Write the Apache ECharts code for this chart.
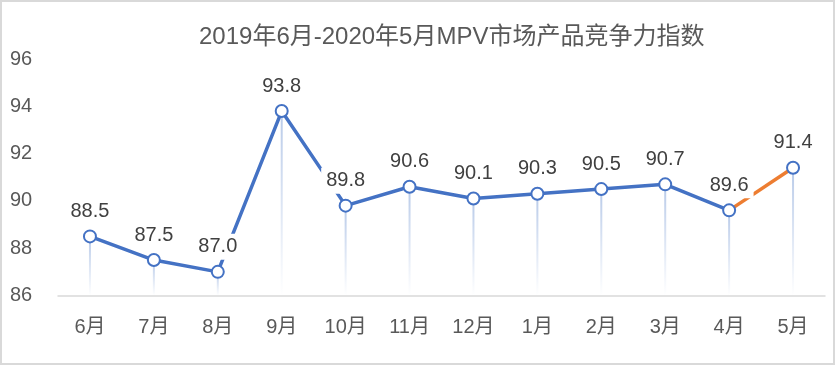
<!DOCTYPE html>
<html>
<head>
<meta charset="utf-8">
<script src="https://cdn.jsdelivr.net/npm/echarts@6/dist/echarts.min.js"></script>
<style>
html,body{margin:0;padding:0;background:#fff;}
#chart{width:835px;height:365px;}
</style>
</head>
<body>
<div id="chart"></div>
<script>
const titleText = '2019年6月-2020年5月MPV市场产品竞争力指数';
const categories = ['6月','7月','8月','9月','10月','11月','12月','1月','2月','3月','4月','5月'];
const values = [88.5, 87.5, 87.0, 93.8, 89.8, 90.6, 90.1, 90.3, 90.5, 90.7, 89.6, 91.4];
const blueValues = [88.5, 87.5, 87.0, 93.8, 89.8, 90.6, 90.1, 90.3, 90.5, 90.7, 89.6, '-'];
const orangeValues = ['-', '-', '-', '-', '-', '-', '-', '-', '-', '-', 89.6, 91.4];
const yMin = 86, yMax = 96, yInterval = 2;

const FONT = '"Liberation Sans", Arial, "Noto Sans CJK SC", sans-serif';
const chart = echarts.init(document.getElementById('chart'), null, {renderer: 'canvas'});
chart.setOption({
  animation: false,
  backgroundColor: '#fff',
  textStyle: {fontFamily: FONT},
  title: {
    text: titleText,
    left: 199, top: 25, padding: 0,
    textStyle: {fontSize: 24, fontWeight: 'normal', color: '#595959', fontFamily: FONT}
  },
  graphic: [{
    type: 'rect', shape: {x: 1, y: 1, width: 833, height: 363},
    style: {fill: 'none', stroke: '#d9d9d9', lineWidth: 2}, silent: true
  }],
  grid: {left: 58, right: 10, top: 59, bottom: 69.5},
  xAxis: {
    type: 'category', data: categories, boundaryGap: true,
    axisLine: {lineStyle: {color: '#d9d9d9', width: 1.5}},
    axisTick: {show: false},
    axisLabel: {fontSize: 20, color: '#595959', margin: 22, fontFamily: FONT}
  },
  yAxis: {
    type: 'value', min: yMin, max: yMax, interval: yInterval,
    axisLine: {show: false}, axisTick: {show: false}, splitLine: {show: false},
    axisLabel: {fontSize: 20, color: '#595959', align: 'left', margin: 48, fontFamily: FONT}
  },
  series: [
    {
      type: 'bar', data: values, barWidth: 2, z: 1, silent: true,
      itemStyle: {color: new echarts.graphic.LinearGradient(0, 0, 0, 1, [
        {offset: 0, color: 'rgba(180,199,231,0.95)'},
        {offset: 1, color: 'rgba(180,199,231,0)'}
      ])}
    },
    {
      type: 'line', data: blueValues, symbol: 'none', z: 2,
      lineStyle: {color: '#4472C4', width: 3.5}
    },
    {
      type: 'line', data: orangeValues, symbol: 'none', z: 2,
      lineStyle: {color: '#ED7D31', width: 3.5}
    },
    {
      type: 'line', data: values, z: 5,
      symbol: 'emptyCircle', symbolSize: 12,
      lineStyle: {width: 0, opacity: 0},
      itemStyle: {color: '#4472C4', borderWidth: 1.5},
      label: {
        show: true, position: 'top', distance: 5,
        fontSize: 20, color: '#404040', fontFamily: FONT,
        backgroundColor: '#fff', padding: [3, 5],
        formatter: p => Number(p.value).toFixed(1)
      }
    }
  ]
});
</script>
</body>
</html>
